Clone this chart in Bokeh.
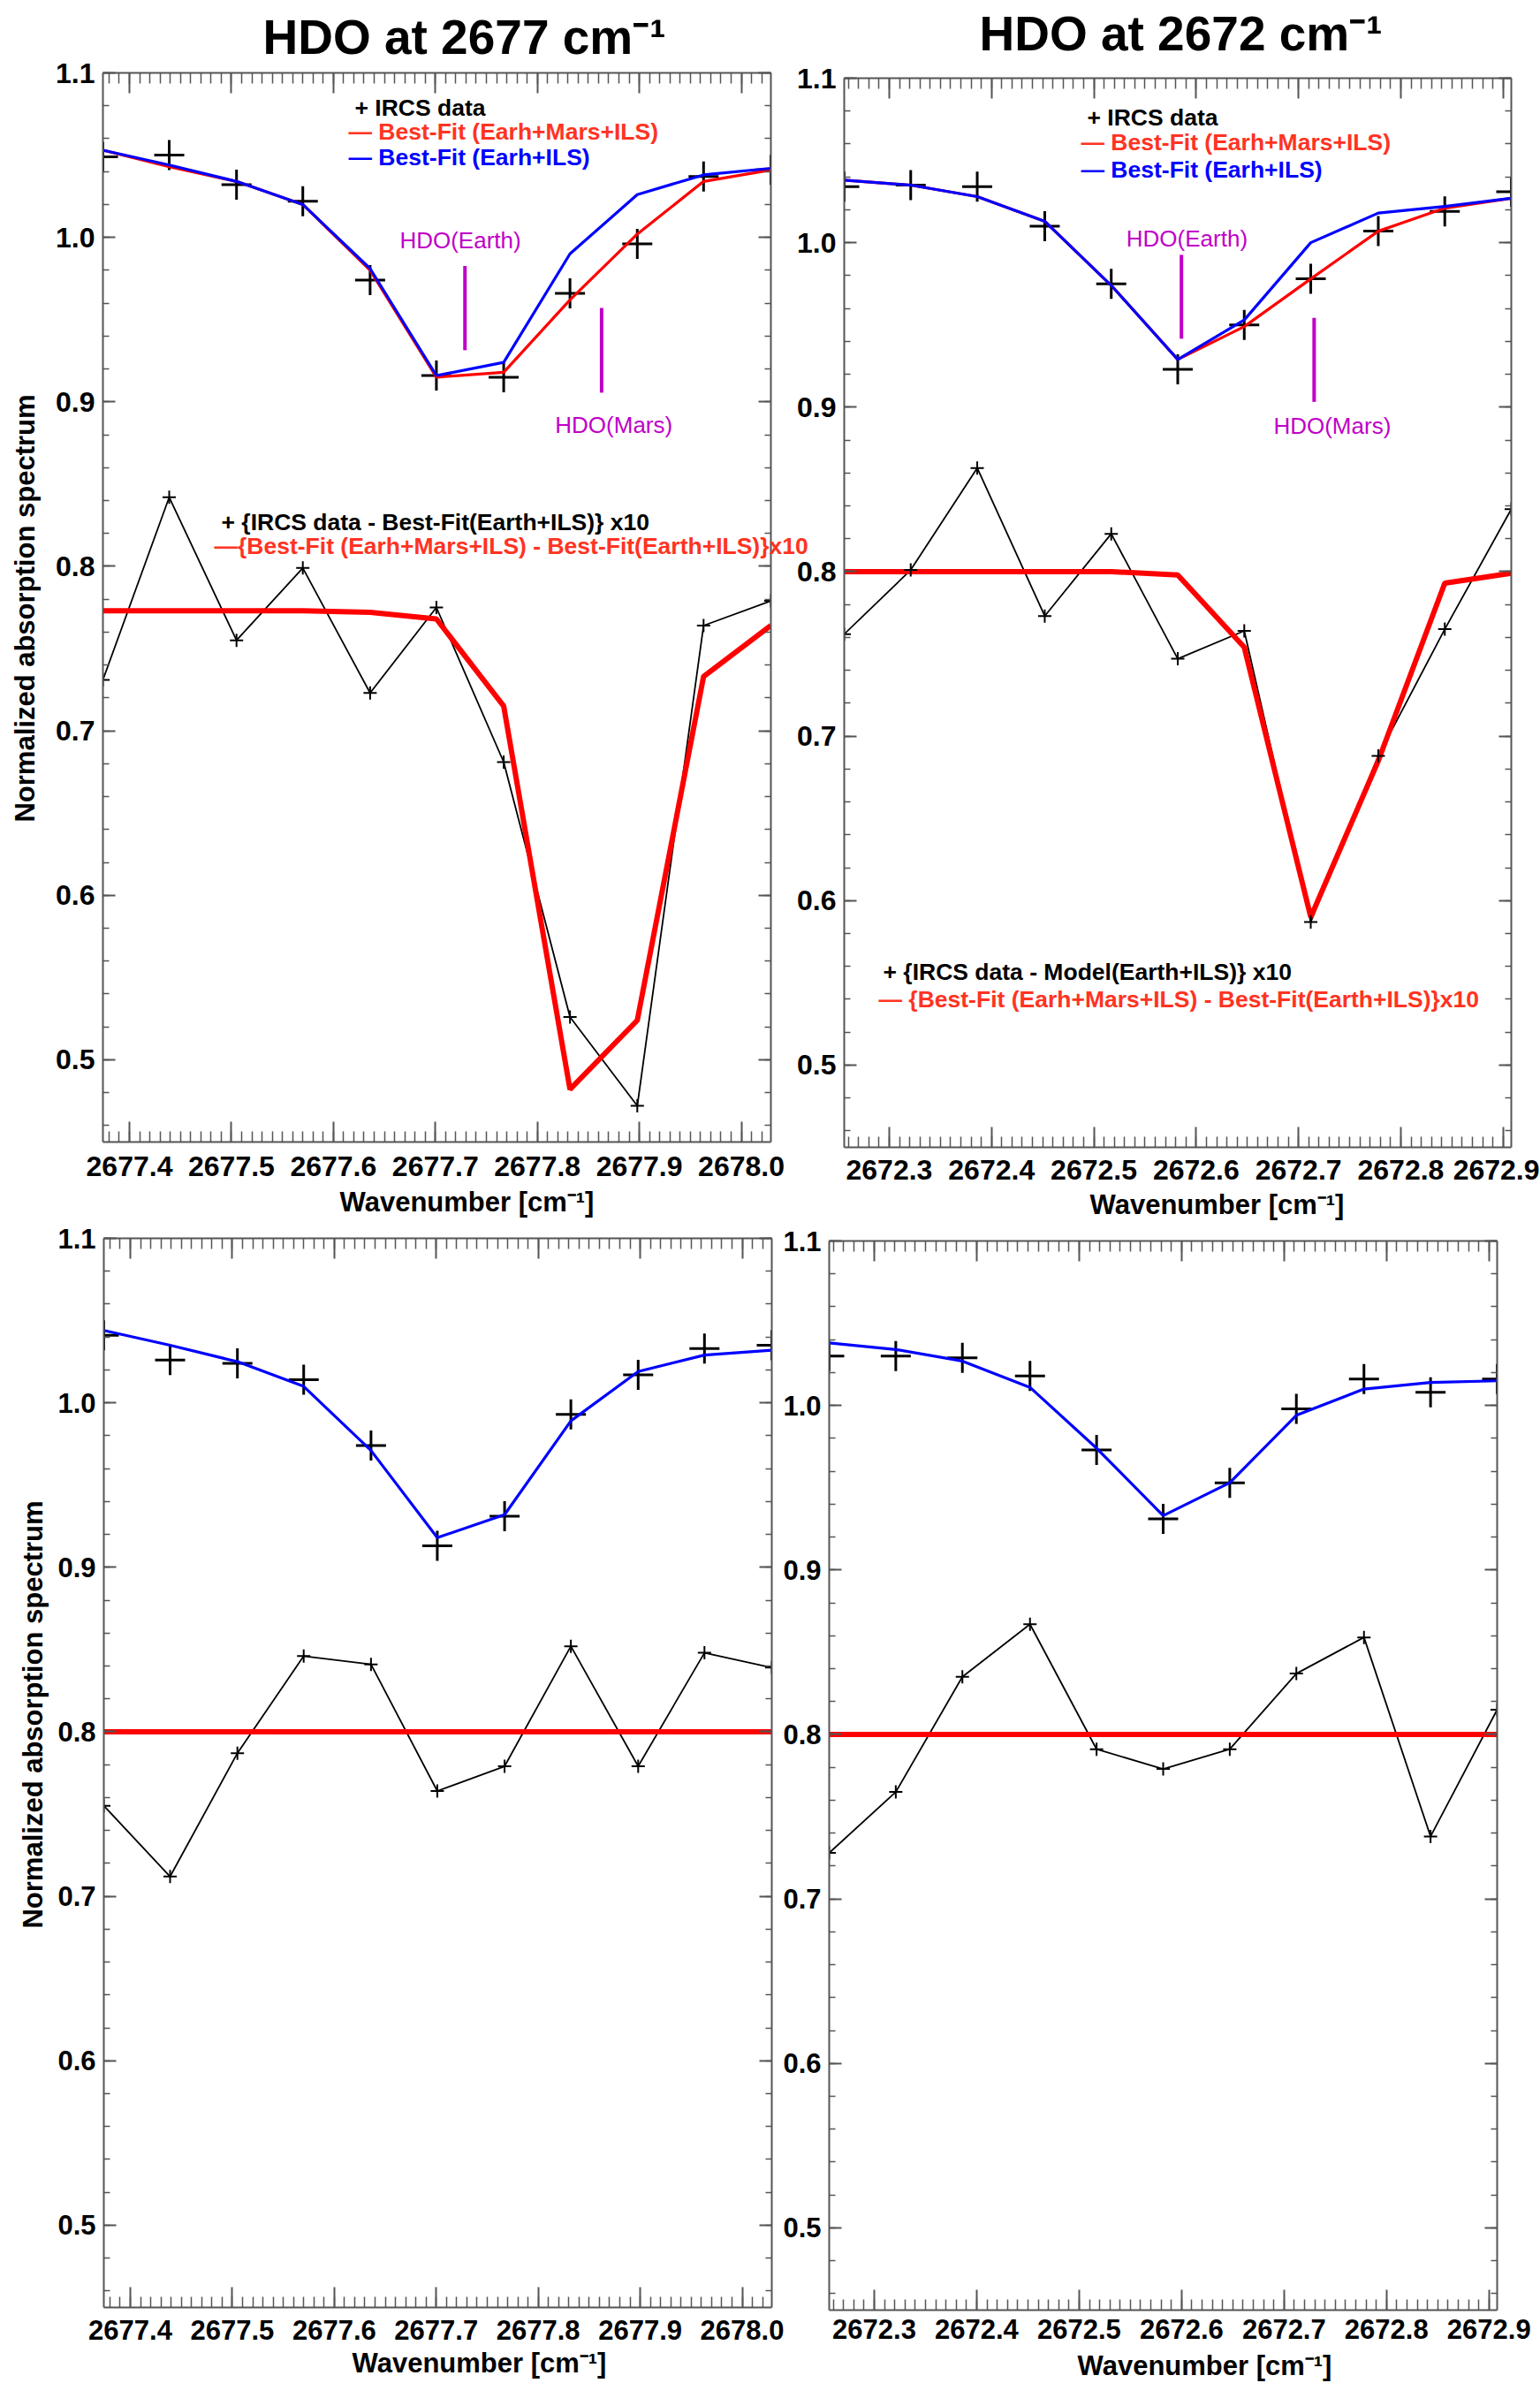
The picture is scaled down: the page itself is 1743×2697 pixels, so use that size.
import math
from bokeh.plotting import figure
from bokeh.models import (Range1d, LinearAxis, SingleIntervalTicker, PrintfTickFormatter, Label,
                          CustomLabelingPolicy)
from bokeh.layouts import row, column
from bokeh.embed import file_html
from bokeh.resources import INLINE

# ---------------- data ----------------
wn_2677 = [2677.374, 2677.439, 2677.505, 2677.570, 2677.636, 2677.701,
           2677.767, 2677.832, 2677.898, 2677.963, 2678.029]
wn_2672 = [2672.256, 2672.321, 2672.386, 2672.452, 2672.517, 2672.582,
           2672.647, 2672.712, 2672.778, 2672.843, 2672.908]

# top-left: HDO at 2677 cm-1 (fit with Mars)
tl_ircs = [1.049, 1.050, 1.032, 1.022, 0.974, 0.916, 0.915, 0.966, 0.996, 1.037, 1.041]
tl_fit_mars = [1.053, 1.043, 1.034, 1.020, 0.980, 0.915, 0.918, 0.962, 1.002, 1.034, 1.041]
tl_fit_earth = [1.053, 1.044, 1.034, 1.020, 0.981, 0.916, 0.924, 0.990, 1.026, 1.038, 1.042]
tl_resid = [0.731, 0.842, 0.755, 0.799, 0.723, 0.775, 0.681, 0.526, 0.472, 0.764, 0.779]
tl_diff = [0.773, 0.773, 0.773, 0.773, 0.772, 0.768, 0.715, 0.482, 0.524, 0.733, 0.764]

# top-right: HDO at 2672 cm-1 (fit with Mars)
tr_ircs = [1.034, 1.035, 1.034, 1.010, 0.975, 0.923, 0.950, 0.978, 1.007, 1.019, 1.031]
tr_fit_mars = [1.038, 1.035, 1.028, 1.013, 0.974, 0.929, 0.949, 0.978, 1.007, 1.021, 1.027]
tr_fit_earth = [1.038, 1.035, 1.028, 1.013, 0.974, 0.929, 0.953, 1.000, 1.018, 1.022, 1.027]
tr_resid = [0.762, 0.801, 0.863, 0.773, 0.823, 0.747, 0.764, 0.587, 0.688, 0.765, 0.838]
tr_diff = [0.800, 0.800, 0.800, 0.800, 0.800, 0.798, 0.754, 0.590, 0.685, 0.793, 0.799]

# bottom-left: 2677 cm-1
bl_ircs = [1.041, 1.026, 1.024, 1.014, 0.974, 0.913, 0.931, 0.993, 1.017, 1.033, 1.035]
bl_fit_earth = [1.044, 1.035, 1.025, 1.010, 0.971, 0.918, 0.932, 0.989, 1.019, 1.029, 1.032]
bl_resid = [0.755, 0.712, 0.787, 0.846, 0.841, 0.764, 0.779, 0.852, 0.779, 0.848, 0.839]
bl_diff = [0.800, 0.800, 0.800, 0.800, 0.800, 0.800, 0.800, 0.800, 0.800, 0.800, 0.800]

# bottom-right: 2672 cm-1
br_ircs = [1.030, 1.030, 1.029, 1.018, 0.973, 0.931, 0.953, 0.998, 1.016, 1.008, 1.016]
br_fit_earth = [1.038, 1.034, 1.027, 1.011, 0.974, 0.933, 0.953, 0.994, 1.010, 1.014, 1.015]
br_resid = [0.728, 0.765, 0.835, 0.867, 0.791, 0.779, 0.791, 0.837, 0.859, 0.738, 0.815]
br_diff = [0.800, 0.800, 0.800, 0.800, 0.800, 0.800, 0.800, 0.800, 0.800, 0.800, 0.800]

# line-centre markers: [Earth, Mars]
tl_mark_x = [2677.729, 2677.863]
tl_mark_top = [0.9826, 0.9571]
tl_mark_bot = [0.9314, 0.9056]
tl_mark_lx = [2677.7245, 2677.875]
tl_mark_ly = [0.9981, 0.8857]
tr_mark_x = [2672.5856, 2672.7153]
tr_mark_top = [0.9926, 0.9543]
tr_mark_bot = [0.9416, 0.9032]
tr_mark_lx = [2672.591, 2672.733]
tr_mark_ly = [1.0023, 0.8888]
mark_names = ["HDO(Earth)", "HDO(Mars)"]

y_range = (0.45, 1.1)

# ---------------- styling ----------------
FONT = "Liberation Sans"
AX = "#555555"
RED = "#FF0000"
BLUE = "#0000FF"
LEG_RED = "#FF3322"
MAG = "#C000C8"
LEG_FS = "26.5px"

HIDE_LABELS = """
for (let i = 0; i < indices.size; i++) { indices.unset(i) }
return indices
"""


def style_axis(ax, major_len, minor_len, minor_n, labels, fs="30px", standoff=9):
    ax.ticker = SingleIntervalTicker(interval=0.1, num_minor_ticks=minor_n)
    ax.axis_line_color = AX
    ax.axis_line_width = 2
    ax.major_tick_line_color = AX
    ax.major_tick_line_width = 2
    ax.minor_tick_line_color = AX
    ax.minor_tick_line_width = 1.5
    ax.major_tick_in = major_len
    ax.major_tick_out = 0
    ax.minor_tick_in = minor_len
    ax.minor_tick_out = 0
    ax.formatter = PrintfTickFormatter(format="%.1f")
    if labels:
        ax.major_label_text_font = FONT
        ax.major_label_text_font_style = "bold"
        ax.major_label_text_font_size = fs
        ax.major_label_text_color = "black"
        ax.major_label_standoff = standoff
    else:
        ax.major_label_text_font_size = "2px"
        ax.major_label_standoff = 0
        ax.major_label_policy = CustomLabelingPolicy(code=HIDE_LABELS)


def make_panel(xr, frame_left, frame_top, fw, fh, canvas_left, canvas_top, cw, ch,
               tick_fs, xstand):
    """canvas_top is where the canvas box (after the vertical margin shift) starts."""
    bl = frame_left - canvas_left
    bt = frame_top - canvas_top
    br = cw - bl - fw
    bb = ch - bt - fh
    p = figure(frame_width=fw, frame_height=fh,
               x_range=Range1d(xr[0], xr[1]), y_range=Range1d(*y_range),
               output_backend="svg", toolbar_location=None,
               min_border_left=bl, min_border_right=br,
               min_border_top=bt, min_border_bottom=bb)
    p.xgrid.visible = False
    p.ygrid.visible = False
    p.outline_line_color = None
    p.background_fill_color = "white"
    style_axis(p.xaxis[0], 23, 12, 10, True, tick_fs, xstand)
    style_axis(p.yaxis[0], 14, 7, 5, True, tick_fs, 9)
    top = LinearAxis()
    style_axis(top, 23, 12, 10, False)
    p.add_layout(top, "above")
    right = LinearAxis()
    style_axis(right, 14, 7, 5, False)
    p.add_layout(right, "right")

    def X(px):
        return xr[0] + (px - frame_left) / fw * (xr[1] - xr[0])

    def Y(py):
        return y_range[1] - (py - frame_top) / fh * (y_range[1] - y_range[0])

    return p, X, Y


def txt(p, x, y, s, size, color="black", bold=True, align="left", baseline="middle", angle=0.0):
    p.add_layout(Label(x=x, y=y, text=s, text_font=FONT, text_font_size=size,
                       text_font_style="bold" if bold else "normal", text_color=color,
                       text_align=align, text_baseline=baseline, angle=angle))


def draw_upper(p, xs, ircs, fits):
    p.scatter(xs, ircs, marker="cross", size=34, line_width=3, line_color="black")
    for vals, col in fits:
        p.line(xs, vals, line_color=col, line_width=3.2)


def draw_lower(p, xs, resid, diff):
    p.line(xs, resid, line_color="black", line_width=1.8)
    p.line(xs, diff, line_color=RED, line_width=6)
    p.scatter(xs, resid, marker="cross", size=15, line_width=2, line_color="black")


def draw_marks(p, mx, mtop, mbot, lx, ly):
    p.segment(x0=mx, y0=mtop, x1=mx, y1=mbot, line_color=MAG, line_width=4)
    for i in range(len(mx)):
        txt(p, lx[i], ly[i], mark_names[i], "26px", MAG, bold=False, align="center")


YLAB = "Normalized absorption spectrum"
XLAB = "Wavenumber [cm\u207b\u00b9]"

PAGE_W = 1742
PAGE_H = 2696
ROW1_H = 1386
ROW2_H = PAGE_H - ROW1_H

# Panels in one row share the same border sizes (Bokeh aligns frames in a row);
# the small vertical offset of the right-hand panels is made with a CSS margin.
SHIFT1 = 6   # top-right frame sits 6 px lower than top-left
SHIFT2 = 3   # bottom-right frame sits 3 px lower than bottom-left

# ---------------- top-left ----------------
p1, X1, Y1 = make_panel((wn_2677[0], wn_2677[-1]), 116, 82, 756, 1210, 0, 0, 925, ROW1_H, "32px", 16)
draw_upper(p1, wn_2677, tl_ircs, [(tl_fit_mars, RED), (tl_fit_earth, BLUE)])
draw_lower(p1, wn_2677, tl_resid, tl_diff)
draw_marks(p1, tl_mark_x, tl_mark_top, tl_mark_bot, tl_mark_lx, tl_mark_ly)
txt(p1, X1(401), Y1(121), "+ IRCS data", LEG_FS)
txt(p1, X1(394), Y1(148), "\u2014 Best-Fit (Earh+Mars+ILS)", LEG_FS, LEG_RED)
txt(p1, X1(394), Y1(177), "\u2014 Best-Fit (Earh+ILS)", LEG_FS, BLUE)
txt(p1, X1(250), Y1(590), "+ {IRCS data - Best-Fit(Earth+ILS)} x10", LEG_FS)

# ---------------- top-right ----------------
p2, X2, Y2 = make_panel((wn_2672[0], wn_2672[-1]), 955, 88, 755, 1210, 880, SHIFT1,
                        PAGE_W - 880, ROW1_H, "32px", 14)
draw_upper(p2, wn_2672, tr_ircs, [(tr_fit_mars, RED), (tr_fit_earth, BLUE)])
draw_lower(p2, wn_2672, tr_resid, tr_diff)
draw_marks(p2, tr_mark_x, tr_mark_top, tr_mark_bot, tr_mark_lx, tr_mark_ly)
txt(p2, X2(1230), Y2(132), "+ IRCS data", LEG_FS)
txt(p2, X2(1223), Y2(160), "\u2014 Best-Fit (Earh+Mars+ILS)", LEG_FS, LEG_RED)
txt(p2, X2(1223), Y2(191), "\u2014 Best-Fit (Earh+ILS)", LEG_FS, BLUE)
txt(p2, X2(999), Y2(1099), "+ {IRCS data - Model(Earth+ILS)} x10", LEG_FS)
txt(p2, X2(994), Y2(1130), "\u2014 {Best-Fit (Earh+Mars+ILS) - Best-Fit(Earth+ILS)}x10", LEG_FS, LEG_RED)
p2.margin = (SHIFT1, 0, -SHIFT1, 880 - 925)
p2.border_fill_color = None

# ---------------- bottom-left ----------------
p3, X3, Y3 = make_panel((wn_2677[0], wn_2677[-1]), 117, 1401, 756, 1210, 0, ROW1_H, 900, ROW2_H, "31px", 14)
draw_upper(p3, wn_2677, bl_ircs, [(bl_fit_earth, BLUE)])
draw_lower(p3, wn_2677, bl_resid, bl_diff)

# ---------------- bottom-right ----------------
p4, X4, Y4 = make_panel((wn_2672[0], wn_2672[-1]), 938, 1404, 756, 1210, 878, ROW1_H + SHIFT2,
                        PAGE_W - 878, ROW2_H, "31px", 10)
draw_upper(p4, wn_2672, br_ircs, [(br_fit_earth, BLUE)])
draw_lower(p4, wn_2672, br_resid, br_diff)
p4.margin = (SHIFT2, 0, -SHIFT2, 878 - 900)
p4.border_fill_color = None

# ---------------- transparent overlay for texts outside the frames ----------------
ov = figure(frame_width=PAGE_W, frame_height=PAGE_H, x_range=Range1d(0, PAGE_W),
            y_range=Range1d(PAGE_H, 0), output_backend="svg", toolbar_location=None,
            x_axis_location=None, y_axis_location=None, min_border=0)
ov.xgrid.visible = False
ov.ygrid.visible = False
ov.outline_line_color = None
ov.background_fill_color = None
ov.border_fill_color = None
ov.margin = (-PAGE_H, 0, 0, 0)

txt(ov, 242, 617, "\u2014{Best-Fit (Earh+Mars+ILS) - Best-Fit(Earth+ILS)}x10", LEG_FS, LEG_RED)
txt(ov, 525, 41, "HDO at 2677 cm\u207b\u00b9", "55px", align="center")
txt(ov, 1336, 37, "HDO at 2672 cm\u207b\u00b9", "55px", align="center")
txt(ov, 528, 1360, XLAB, "31px", align="center")
txt(ov, 1377, 1363, XLAB, "31px", align="center")
txt(ov, 542, 2674, XLAB, "31px", align="center")
txt(ov, 1363, 2677, XLAB, "31px", align="center")
txt(ov, 28, 688, YLAB, "31px", align="center", angle=math.pi / 2)
txt(ov, 37, 1940, YLAB, "31px", align="center", angle=math.pi / 2)

layout = column(row(p1, p2), row(p3, p4), ov)
open("out.html", "w").write(file_html(layout, INLINE))
